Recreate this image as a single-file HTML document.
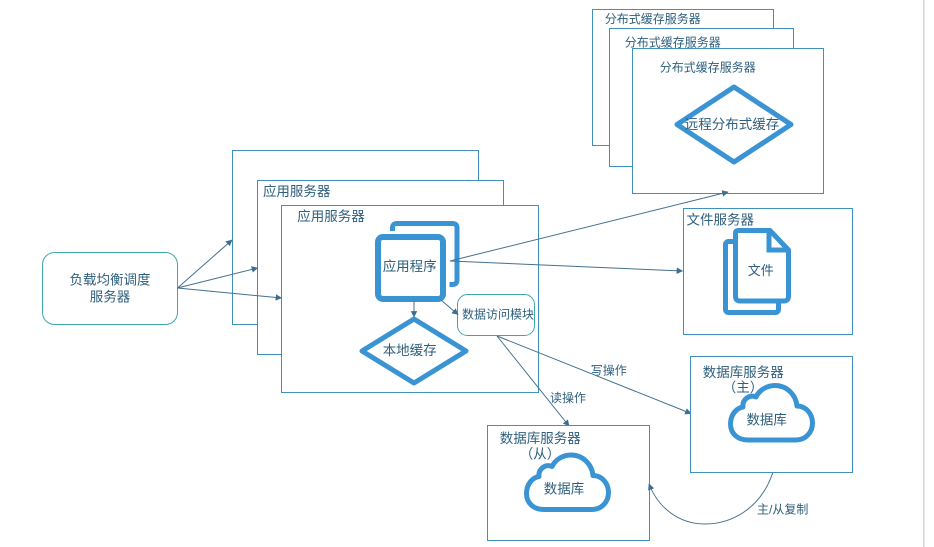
<!DOCTYPE html>
<html><head><meta charset="utf-8"><style>
html,body{margin:0;padding:0;background:#fff;width:934px;height:547px;overflow:hidden}
svg{display:block}
text{font-family:"Liberation Sans","Noto Sans CJK SC",sans-serif;fill:#2e5f7d;text-anchor:middle;dominant-baseline:central}
.s{font-size:12px}.m{font-size:13.5px}
.b{fill:#fff;stroke:#3f8fbf;stroke-width:1}
.h{fill:#fff;stroke:#3a94d4;stroke-width:5;stroke-linejoin:round}
.a{fill:none;stroke:#44708f;stroke-width:1}
.t{fill:#fff;stroke:#3fa7a7;stroke-width:1}
</style></head><body>
<svg width="934" height="547" viewBox="0 0 934 547" xmlns="http://www.w3.org/2000/svg">
<defs><marker id="ar" viewBox="0 0 10 10" refX="9" refY="5" markerWidth="6.5" markerHeight="6.5" markerUnits="userSpaceOnUse" orient="auto"><path d="M0 0L10 5L0 10Z" fill="#3f6d90"/></marker></defs>
<rect x="923" y="0" width="1.5" height="547" fill="#d6d6d6"/>

<rect class="b" x="592.5" y="9.5" width="181" height="136"/>
<rect class="b" x="609.5" y="28.5" width="184" height="138"/>
<rect class="b" x="632.5" y="48.5" width="191" height="145"/>
<path class="h" d="M734 87L791 124.500L734 162L677 124.500Z"/>
<text class="s" x="652.700" y="19">分布式缓存服务器</text>
<text class="s" x="672.700" y="42.500">分布式缓存服务器</text>
<text class="s" x="707.700" y="67.500">分布式缓存服务器</text>
<text class="m" x="732" y="124.300">远程分布式缓存</text>

<rect class="b" x="232.500" y="150.500" width="246" height="174"/>
<rect class="b" x="257.500" y="180.500" width="246" height="174"/>
<rect class="b" x="281.500" y="205.500" width="257" height="187"/>
<text class="m" x="296.700" y="191.500">应用服务器</text>
<text class="m" x="331" y="216.500">应用服务器</text>

<rect class="t" x="42.500" y="252.500" width="135" height="72" rx="12"/>
<text class="m" x="110" y="280">负载均衡调度</text>
<text class="m" x="110" y="297">服务器</text>

<path class="a" d="M177.500 288L232 240" marker-end="url(#ar)"/>
<path class="a" d="M177.500 288L257.500 268" marker-end="url(#ar)"/>
<path class="a" d="M177.500 288L281.500 298" marker-end="url(#ar)"/>

<path d="M392.500 231V228Q392.500 223.500 397 223.500H452.500Q457 223.500 457 228V280Q457 284.500 452.500 284.500H449.500" fill="none" stroke="#3a94d4" stroke-width="5"/>
<rect class="h" x="378" y="237" width="65" height="62" rx="5" style="stroke-width:6"/>
<text class="m" x="409.700" y="266.500">应用程序</text>
<path class="h" d="M414 319L466 351L414 383L362 351Z"/>
<text class="m" x="409.700" y="350.500">本地缓存</text>
<rect class="t" x="457.500" y="294.500" width="77" height="41" rx="10"/>
<text class="s" x="498" y="314.300">数据访问模块</text>
<path class="a" d="M414 301L414 317" marker-end="url(#ar)"/>
<path class="a" d="M441 300L458 314.500" marker-end="url(#ar)"/>
<path class="a" d="M450 261L728 192" marker-end="url(#ar)"/>
<path class="a" d="M450 261L682.500 271" marker-end="url(#ar)"/>

<rect class="b" x="683.500" y="208.500" width="169" height="126"/>
<text class="m" x="720.300" y="220">文件服务器</text>
<rect class="h" x="725.500" y="241.500" width="53" height="71" rx="3" style="stroke-width:5"/>
<path class="h" d="M738 230.500H770L788.500 250V296Q788.500 301 784 301H740Q735.500 301 735.500 296V233Q735.500 230.500 738 230.500Z"/>
<path d="M769 230.500V250H788.500" fill="none" stroke="#3a94d4" stroke-width="5"/>
<text x="760.700" y="270.500" style="font-size:13px">文件</text>

<path class="a" d="M497 336L691 413.500" marker-end="url(#ar)"/>
<path class="a" d="M497 336L569 426" marker-end="url(#ar)"/>
<text class="s" x="608.700" y="370.500">写操作</text>
<text class="s" x="568" y="398">读操作</text>

<rect class="b" x="690.500" y="356.500" width="162" height="116"/>
<rect class="b" x="487.500" y="425.500" width="162" height="115"/>
<text class="m" x="743.300" y="372.500">数据库服务器</text>
<text class="m" x="743" y="387.500">（主）</text>
<path fill="#fff" stroke="#3a94d4" stroke-width="5" stroke-linejoin="round" d="M748 440C737 440 730.500 433 730.500 424C730.500 414 737 408 743 407C742 400 749 394 756 397C760 389 768 385.500 775 385.500C787 385.500 796 395 797 406C806 406 812.500 414 812.500 423C812.500 433 805 440 796 440Z"/>
<text class="m" x="766.700" y="420">数据库</text>
<text class="m" x="540.300" y="438.300">数据库服务器</text>
<text class="m" x="540" y="454">（从）</text>
<path fill="#fff" stroke="#3a94d4" stroke-width="5" stroke-linejoin="round" transform="translate(-204 69.500)" d="M748 440C737 440 730.500 433 730.500 424C730.500 414 737 408 743 407C742 400 749 394 756 397C760 389 768 385.500 775 385.500C787 385.500 796 395 797 406C806 406 812.500 414 812.500 423C812.500 433 805 440 796 440Z"/>
<text class="m" x="564" y="489">数据库</text>

<path class="a" d="M772.700 473C760 510 730 524 705 524C678 524 658 507 649 484" marker-end="url(#ar)"/>
<text class="s" x="782.700" y="509.300">主/从复制</text>
</svg>
</body></html>
